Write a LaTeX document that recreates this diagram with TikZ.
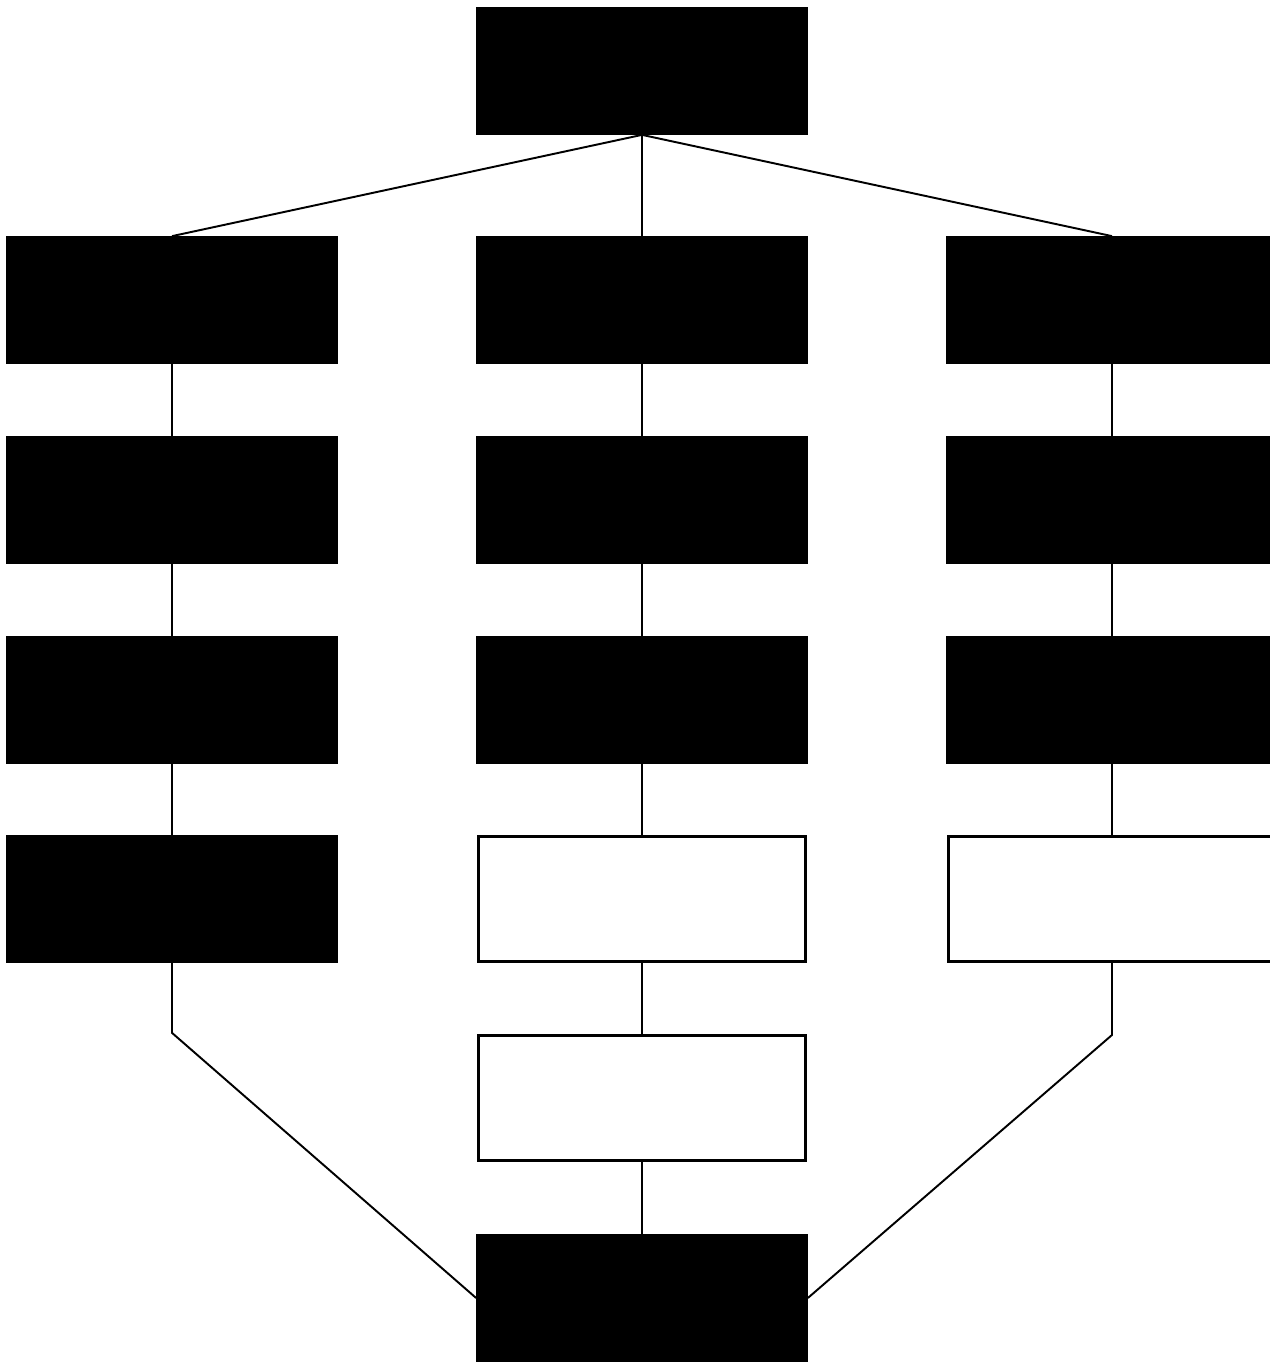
\documentclass[tikz,border=0pt]{standalone}
\usepackage{tikz}
\usetikzlibrary{positioning}

\tikzset{
  solidbox/.style={draw=black,fill=black,line width=1pt,minimum width=6.6cm,minimum height=2.52cm,inner sep=0pt},
  openbox/.style={draw=black,fill=white,line width=1.7pt,minimum width=6.55cm,minimum height=2.5cm,inner sep=0pt},
  link/.style={draw=black,line width=1.1pt}
}

\begin{document}
\begin{tikzpicture}[x=0.02cm,y=-0.02cm]
  \useasboundingbox (0,0) rectangle (1270,1366);

  % root
  \node[solidbox] (top) at (642,71) {};

  % three columns
  \node[solidbox] (l1) at (172,300) {};
  \node[solidbox] (l2) at (172,500) {};
  \node[solidbox] (l3) at (172,700) {};
  \node[solidbox] (l4) at (172,899) {};

  \node[solidbox] (m1) at (642,300) {};
  \node[solidbox] (m2) at (642,500) {};
  \node[solidbox] (m3) at (642,700) {};
  \node[openbox]  (m4) at (642,899) {};
  \node[openbox]  (m5) at (642,1098) {};

  \node[solidbox] (r1) at (1112,300) {};
  \node[solidbox] (r2) at (1112,500) {};
  \node[solidbox] (r3) at (1112,700) {};
  \node[openbox]  (r4) at (1112,899) {};

  % sink
  \node[solidbox] (bottom) at (642,1298) {};

  \draw[link] (top.south) -- (l1.north);
  \draw[link] (top.south) -- (m1.north);
  \draw[link] (top.south) -- (r1.north);

  \draw[link] (l1) -- (l2);
  \draw[link] (l2) -- (l3);
  \draw[link] (l3) -- (l4);

  \draw[link] (m1) -- (m2);
  \draw[link] (m2) -- (m3);
  \draw[link] (m3) -- (m4);
  \draw[link] (m4) -- (m5);
  \draw[link] (m5) -- (bottom);

  \draw[link] (r1) -- (r2);
  \draw[link] (r2) -- (r3);
  \draw[link] (r3) -- (r4);

  \draw[link] (l4.south) -- ++(0,70) -- (bottom.west);
  \draw[link] (r4.south) -- ++(0,72) -- (bottom.east);
\end{tikzpicture}
\end{document}
